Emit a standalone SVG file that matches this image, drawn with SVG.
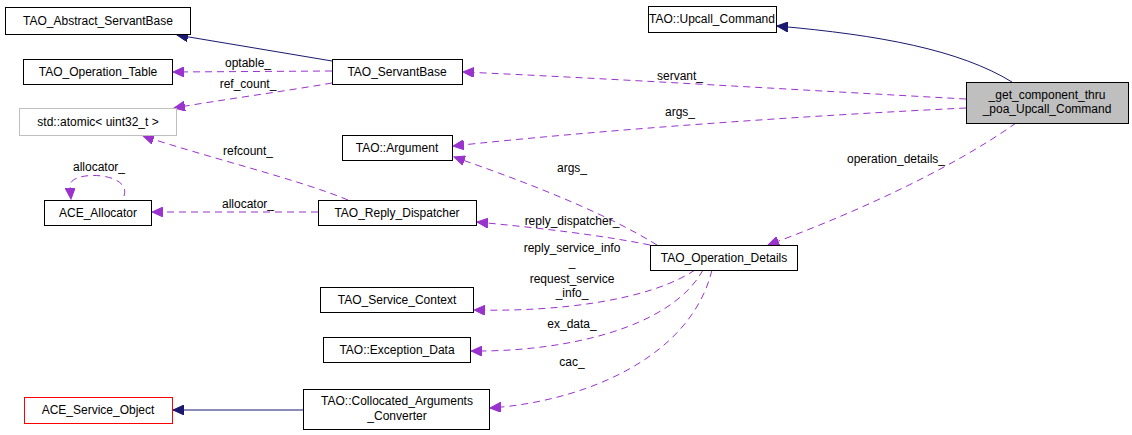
<svg xmlns="http://www.w3.org/2000/svg" width="1132" height="435" viewBox="0 0 1132 435">
<style>
.n rect{fill:#fff;stroke:#000;stroke-width:1}
text{font-family:"Liberation Sans",Arial,sans-serif;font-size:12px;fill:#000}
.n text{text-anchor:middle}
.e{fill:none;stroke:#9a32cd;stroke-dasharray:7,5}
.i{fill:none;stroke:#191970}
.l{text-anchor:middle}
</style>
<defs>
<marker id="p" markerWidth="12" markerHeight="10" refX="11" refY="5" orient="auto" markerUnits="userSpaceOnUse"><path d="M0,0 L11,5 L0,10 Z" fill="#9a32cd" stroke="#9a32cd"/></marker>
<marker id="b" markerWidth="12" markerHeight="10" refX="11" refY="5" orient="auto" markerUnits="userSpaceOnUse"><path d="M0,0 L11,5 L0,10 Z" fill="#191970" stroke="#191970"/></marker>
</defs>
<g id="edges">
<path class="i" d="M332,61 L177,35" marker-end="url(#b)"/>
<path class="e" d="M332,71 L173,72" marker-end="url(#p)"/>
<text class="l" x="248" y="67">optable_</text>
<path class="e" d="M332,83 C280,92 220,100 174,108" marker-end="url(#p)"/>
<text class="l" x="248" y="88">ref_count_</text>
<path class="e" d="M348,200 C300,180 210,158 143,136" marker-end="url(#p)"/>
<text class="l" x="248" y="155">refcount_</text>
<path class="e" d="M124,196 C132,172 72,170 70,185 L71,199" marker-end="url(#p)"/>
<text class="l" x="99" y="171">allocator_</text>
<path class="e" d="M318,212 L152,212" marker-end="url(#p)"/>
<text class="l" x="248" y="208">allocator_</text>
<path class="i" d="M1012,82 C960,50 880,35 777,26" marker-end="url(#b)"/>
<path class="e" d="M966,99 C800,90 600,78 463,72" marker-end="url(#p)"/>
<text class="l" x="680" y="80">servant_</text>
<path class="e" d="M966,108 C800,116 600,130 453,146" marker-end="url(#p)"/>
<text class="l" x="680" y="116">args_</text>
<path class="e" d="M1016,123 C950,170 850,215 768,245" marker-end="url(#p)"/>
<text class="l" x="896" y="163">operation_details_</text>
<path class="e" d="M657,245 C600,210 520,180 454,157" marker-end="url(#p)"/>
<text class="l" x="572" y="172">args_</text>
<path class="e" d="M650,245 C600,235 540,228 477,222" marker-end="url(#p)"/>
<text class="l" x="572" y="225">reply_dispatcher_</text>
<path class="e" d="M695,270 C650,300 560,312 474,310" marker-end="url(#p)"/>
<text class="l" x="572" y="252">reply_service_info</text>
<text class="l" x="572" y="266">_</text>
<text class="l" x="572" y="283">request_service</text>
<text class="l" x="572" y="297">_info_</text>
<path class="e" d="M703,270 C670,330 560,352 471,351" marker-end="url(#p)"/>
<text class="l" x="572" y="328">ex_data_</text>
<path class="e" d="M712,270 C690,360 580,402 490,408" marker-end="url(#p)"/>
<text class="l" x="572" y="366">cac_</text>
<path class="i" d="M303,410 L173,410" marker-end="url(#b)"/>
</g>
<g id="n_abs" class="n"><rect x="5.5" y="7.5" width="185" height="27"/><text x="98" y="25">TAO_Abstract_ServantBase</text></g>
<g id="n_optable" class="n"><rect x="23.5" y="59.5" width="149" height="25"/><text x="98" y="76">TAO_Operation_Table</text></g>
<g id="n_atomic" class="n"><rect x="19.5" y="108.5" width="157" height="27" style="stroke:#bfbfbf"/><text x="98" y="126">std::atomic&lt; uint32_t &gt;</text></g>
<g id="n_alloc" class="n"><rect x="44.5" y="200.5" width="107" height="25"/><text x="98" y="217">ACE_Allocator</text></g>
<g id="n_servant" class="n"><rect x="332.5" y="59.5" width="130" height="25"/><text x="397" y="76">TAO_ServantBase</text></g>
<g id="n_arg" class="n"><rect x="342.5" y="135.5" width="110" height="25"/><text x="397" y="152">TAO::Argument</text></g>
<g id="n_reply" class="n"><rect x="318.5" y="200.5" width="158" height="25"/><text x="397" y="217">TAO_Reply_Dispatcher</text></g>
<g id="n_upcall" class="n"><rect x="648.5" y="6.5" width="128" height="26"/><text x="712" y="23">TAO::Upcall_Command</text></g>
<g id="n_main" class="n"><rect x="966.5" y="82.5" width="162" height="41" style="fill:#bfbfbf"/><text x="1047" y="99">_get_component_thru</text><text x="1047" y="113">_poa_Upcall_Command</text></g>
<g id="n_opdet" class="n"><rect x="650.5" y="245.5" width="147" height="25"/><text x="724" y="262">TAO_Operation_Details</text></g>
<g id="n_svcctx" class="n"><rect x="320.5" y="287.5" width="153" height="25"/><text x="397" y="304">TAO_Service_Context</text></g>
<g id="n_exc" class="n"><rect x="323.5" y="337.5" width="147" height="25"/><text x="397" y="354">TAO::Exception_Data</text></g>
<g id="n_aso" class="n"><rect x="24.5" y="397.5" width="148" height="26" style="stroke:#ff0000"/><text x="98" y="414">ACE_Service_Object</text></g>
<g id="n_cac" class="n"><rect x="303.5" y="389.5" width="186" height="40"/><text x="397" y="405">TAO::Collocated_Arguments</text><text x="397" y="420">_Converter</text></g>
</svg>
